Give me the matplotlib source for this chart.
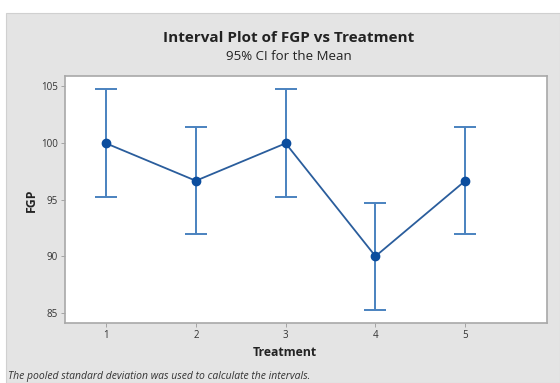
import matplotlib.pyplot as plt
from matplotlib.patches import Rectangle

# data
treatments = [1, 2, 3, 4, 5]
means = [99.95, 96.65, 99.95, 90.0, 96.65]
lower = [95.25, 91.95, 95.25, 85.25, 91.95]
upper = [104.7, 101.4, 104.7, 94.65, 101.4]
y_ticks = [85, 90, 95, 100, 105]

plt.rcParams['font.family'] = ['Open Sans', 'DejaVu Sans']

W, H = 560, 383
fig = plt.figure(figsize=(W / 100, H / 100), dpi=100)
fig.patch.set_facecolor('white')

# grey minitab panel
fig.add_artist(Rectangle((6 / W, 0), 1 - 6 / W, 1 - 13 / H, transform=fig.transFigure,
                         facecolor='#e4e4e4', edgecolor='#d0d0d0', lw=0.8, zorder=0))

ax = fig.add_axes([65 / W, 1 - 323 / H, (547 - 65) / W, (323 - 76) / H])
ax.set_facecolor('white')

err_lo = [m - l for m, l in zip(means, lower)]
err_hi = [u - m for m, u in zip(means, upper)]
ax.errorbar(treatments, means, yerr=[err_lo, err_hi], fmt='none', ecolor='#4a82bf',
            elinewidth=1.4, capsize=8, capthick=1.4, zorder=2)
ax.plot(treatments, means, color='#2a5d9c', lw=1.3, zorder=3)
ax.plot(treatments, means, 'o', color='#0b4d9e', ms=6, zorder=4)

ax.set_xlim(0.543, 5.91)
ax.set_ylim(84.12, 105.88)
ax.set_xticks(treatments)
ax.set_yticks(y_ticks)
ax.tick_params(labelsize=7, colors='#333333', length=3, width=0.6, pad=2)
ax.tick_params(axis='both', color='#999999')
for s in ax.spines.values():
    s.set_color('#a8a8a8')
    s.set_linewidth(1.2)

fig.text(289 / W, 1 - 38 / H, 'Interval Plot of FGP vs Treatment', ha='center', va='center',
         fontsize=11, fontweight='bold', color='#222222')
fig.text(289 / W, 1 - 57 / H, '95% CI for the Mean', ha='center', va='center',
         fontsize=9.5, color='#222222')
fig.text(285 / W, 1 - 352 / H, 'Treatment', ha='center', va='center',
         fontsize=8.8, fontweight='bold', color='#222222')
fig.text(31 / W, 1 - 200 / H, 'FGP', ha='center', va='center', rotation=90,
         fontsize=8.8, fontweight='bold', color='#222222')
fig.text(8 / W, 1 - 376 / H, 'The pooled standard deviation was used to calculate the intervals.',
         ha='left', va='center', fontsize=7.5, style='italic', color='#333333')

fig.savefig('out.png', dpi=100)
